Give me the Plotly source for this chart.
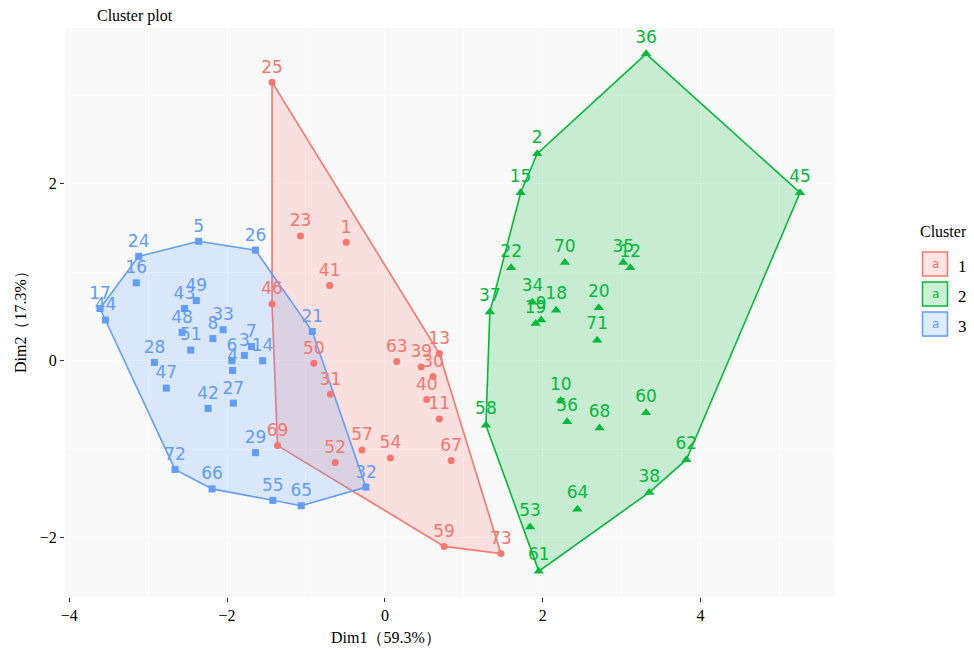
import plotly.graph_objects as go

# ---------------- data ----------------
clusters = ["1", "2", "3"]
colors = ["#F8766D", "#00BA38", "#619CFF"]
fills = ["rgba(248,118,109,0.2)", "rgba(0,186,56,0.2)", "rgba(97,156,255,0.2)"]
symbols = ["circle", "triangle-up", "square"]
msizes = [7, 9, 7]

ids_1 = [1, 11, 13, 23, 25, 30, 31, 39, 40, 41, 46, 50, 52, 54, 57, 59, 63, 67, 69, 73]
x_1 = [-0.49, 0.69, 0.69, -1.07, -1.43, 0.61, -0.69, 0.46, 0.53, -0.70, -1.43, -0.90, -0.63, 0.07, -0.29, 0.75, 0.15, 0.84, -1.36, 1.47]
y_1 = [1.34, -0.66, 0.08, 1.41, 3.15, -0.18, -0.38, -0.07, -0.44, 0.85, 0.64, -0.03, -1.15, -1.10, -1.01, -2.10, -0.01, -1.13, -0.96, -2.18]

ids_2 = [2, 9, 10, 12, 15, 18, 19, 20, 22, 34, 35, 36, 37, 38, 45, 53, 56, 58, 60, 61, 62, 64, 68, 70, 71]
x_2 = [1.93, 1.98, 2.23, 3.11, 1.72, 2.17, 1.91, 2.71, 1.60, 1.87, 3.02, 3.31, 1.33, 3.35, 5.26, 1.84, 2.31, 1.28, 3.31, 1.95, 3.82, 2.44, 2.72, 2.28, 2.69]
y_2 = [2.34, 0.46, -0.45, 1.05, 1.90, 0.57, 0.42, 0.60, 1.05, 0.66, 1.11, 3.47, 0.55, -1.49, 1.90, -1.88, -0.69, -0.73, -0.59, -2.38, -1.12, -1.68, -0.76, 1.11, 0.23]

ids_3 = [3, 4, 5, 6, 7, 8, 14, 16, 17, 21, 24, 26, 27, 28, 29, 32, 33, 42, 43, 44, 47, 48, 49, 51, 55, 65, 66, 72]
x_3 = [-1.78, -1.93, -2.36, -1.94, -1.69, -2.18, -1.55, -3.15, -3.61, -0.92, -3.12, -1.64, -1.92, -2.92, -1.64, -0.24, -2.05, -2.24, -2.54, -3.54, -2.77, -2.57, -2.39, -2.46, -1.42, -1.06, -2.19, -2.66]
y_3 = [0.06, -0.11, 1.35, 0.00, 0.16, 0.25, 0.00, 0.88, 0.59, 0.33, 1.18, 1.25, -0.48, -0.02, -1.04, -1.43, 0.35, -0.54, 0.59, 0.46, -0.31, 0.32, 0.68, 0.12, -1.58, -1.64, -1.45, -1.23]

x_title = "Dim1（59.3%）"
y_title = "Dim2（17.3%）"
x_ticks = [-4, -2, 0, 2, 4]
y_ticks = [-2, 0, 2]

groups = [(ids_1, x_1, y_1), (ids_2, x_2, y_2), (ids_3, x_3, y_3)]


def convex_hull(xs, ys):
    pts = sorted(set(zip(xs, ys)))

    def cross(o, a, b):
        return (a[0] - o[0]) * (b[1] - o[1]) - (a[1] - o[1]) * (b[0] - o[0])

    lower, upper = [], []
    for p in pts:
        while len(lower) >= 2 and cross(lower[-2], lower[-1], p) <= 0:
            lower.pop()
        lower.append(p)
    for p in reversed(pts):
        while len(upper) >= 2 and cross(upper[-2], upper[-1], p) <= 0:
            upper.pop()
        upper.append(p)
    hull = lower[:-1] + upper[:-1]
    hull.append(hull[0])
    return [p[0] for p in hull], [p[1] for p in hull]


fig = go.Figure()

# hulls
for (ids, xs, ys), col, fc in zip(groups, colors, fills):
    hx, hy = convex_hull(xs, ys)
    fig.add_trace(go.Scatter(x=hx, y=hy, mode="lines", fill="toself", fillcolor=fc,
                             line=dict(color=col, width=1.6), hoverinfo="skip", showlegend=False))

# points + labels
for (ids, xs, ys), col, sym, ms in zip(groups, colors, symbols, msizes):
    fig.add_trace(go.Scatter(x=xs, y=ys, mode="markers+text", text=[str(i) for i in ids],
                             textposition="top center",
                             textfont=dict(family="DejaVu Sans", size=17, color=col),
                             marker=dict(symbol=sym, size=ms, color=col, line=dict(width=0)),
                             showlegend=False))

# axis ranges with ggplot-like 5% expansion
all_x = x_1 + x_2 + x_3
all_y = y_1 + y_2 + y_3
ex = (max(all_x) - min(all_x)) * 0.05
ey = (max(all_y) - min(all_y)) * 0.05
xr = [min(all_x) - ex, max(all_x) + ex]
yr = [min(all_y) - ey, max(all_y) + ey]

# page offset (body margin of the html page)
OFF = 8
W, H = 974, 654
ML, MR, MT, MB = 57, 147, 20, 65
PW, PH = W - ML - MR, H - MT - MB


def px(x):
    return (x - OFF - ML) / PW


def py(y):
    return (H - MB - (y - OFF)) / PH


serif = "Liberation Serif"

axis_common = dict(showgrid=True, gridcolor="white", gridwidth=1.2, zeroline=False,
                   ticks="outside", ticklen=4, tickcolor="#333333", tickwidth=1,
                   tickfont=dict(family=serif, size=16, color="black"), showline=False)

fig.update_xaxes(range=xr, tickvals=x_ticks, ticktext=[str(t).replace("-", "−") for t in x_ticks],
                 minor=dict(dtick=1, tick0=0, showgrid=True, gridcolor="white", gridwidth=0.6, ticks=""),
                 **axis_common)
fig.update_yaxes(range=yr, tickvals=y_ticks, ticktext=[str(t).replace("-", "−") for t in y_ticks],
                 minor=dict(dtick=1, tick0=0, showgrid=True, gridcolor="white", gridwidth=0.6, ticks=""),
                 **axis_common)

annotations = [
    dict(text="Cluster plot", x=px(95), y=py(16), xref="paper", yref="paper",
         xanchor="left", yanchor="middle", showarrow=False,
         font=dict(family=serif, size=16, color="black")),
    dict(text=x_title, x=px(386), y=py(637), xref="paper", yref="paper",
         xanchor="center", yanchor="middle", showarrow=False,
         font=dict(family=serif, size=16, color="black")),
    dict(text=y_title, x=px(20), y=py(318), xref="paper", yref="paper",
         xanchor="center", yanchor="middle", showarrow=False, textangle=-90,
         font=dict(family=serif, size=16, color="black")),
    dict(text="Cluster", x=px(918), y=py(232), xref="paper", yref="paper",
         xanchor="left", yanchor="middle", showarrow=False,
         font=dict(family=serif, size=16, color="black")),
]

shapes = []
box_tops = [252, 282, 312]
for lab, col, fc, top in zip(clusters, colors, fills, box_tops):
    shapes.append(dict(type="rect", xref="paper", yref="paper",
                       x0=px(922.5), x1=px(947.5), y0=py(top), y1=py(top + 24),
                       line=dict(color=col, width=1.5), fillcolor=fc))
    annotations.append(dict(text="a", x=px(935), y=py(top + 12), xref="paper", yref="paper",
                            xanchor="center", yanchor="middle", showarrow=False,
                            font=dict(family="DejaVu Sans", size=12, color=col)))
    annotations.append(dict(text=lab, x=px(956), y=py(top + 14), xref="paper", yref="paper",
                            xanchor="left", yanchor="middle", showarrow=False,
                            font=dict(family=serif, size=17, color="black")))

fig.update_layout(width=W, height=H, margin=dict(l=ML, r=MR, t=MT, b=MB),
                  paper_bgcolor="white", plot_bgcolor="#F9F9F9",
                  showlegend=False, annotations=annotations, shapes=shapes)

fig.write_html("out.html")
